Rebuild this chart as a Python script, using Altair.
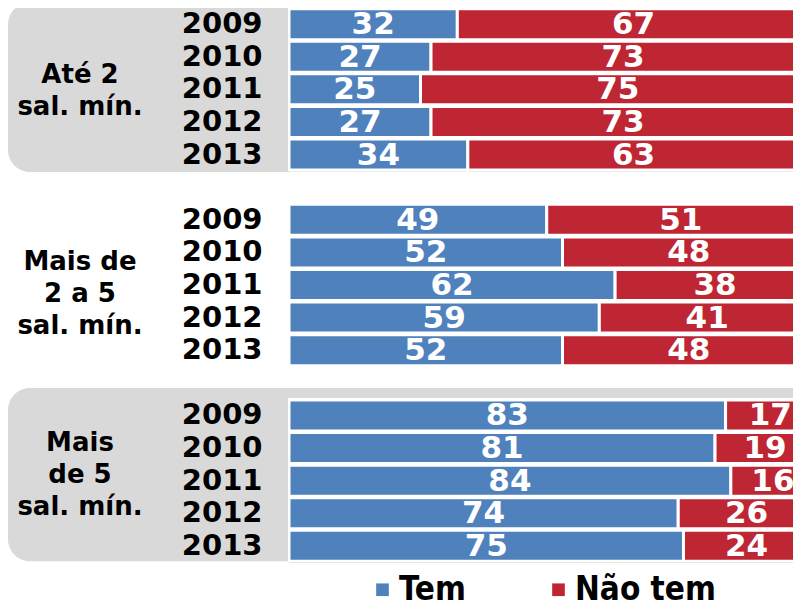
import altair as alt
import pandas as pd

groups = ["A", "B", "C"]
group_labels = ["Até 2\nsal. mín.", "Mais de\n2 a 5\nsal. mín.", "Mais\nde 5\nsal. mín."]
years = ["2009", "2010", "2011", "2012", "2013"]
tem = {"A": [32, 27, 25, 27, 34], "B": [49, 52, 62, 59, 52], "C": [83, 81, 84, 74, 75]}
nao_tem = {"A": [67, 73, 75, 73, 63], "B": [51, 48, 38, 41, 48], "C": [17, 19, 16, 26, 24]}
series = ["Tem", "Não tem"]
colors = ["#4F81BD", "#BE2633"]

keys = []
for i, g in enumerate(groups):
    keys += [f"{g}|{y}" for y in years]
    if i < len(groups) - 1:
        keys.append(f"gap{i}| ")

rows = []
for g in groups:
    for j, y in enumerate(years):
        rows.append({"key": f"{g}|{y}", "cat": series[0], "value": tem[g][j], "ord": 0})
        rows.append({"key": f"{g}|{y}", "cat": series[1], "value": nao_tem[g][j], "ord": 1})
df = pd.DataFrame(rows)

W, H = 504, 554
yscale = alt.Scale(domain=keys, paddingInner=0.05, paddingOuter=0.02)
yaxis = alt.Axis(title=None, ticks=False, domain=False, grid=False,
                 labelExpr="split(datum.value, '|')[1]",
                 labelFont="DejaVu Sans", labelFontSize=29, labelFontWeight="bold",
                 labelColor="black", labelPadding=27)
xscale = alt.Scale(domain=[0, 95.82], nice=False, zero=True)


def Y(field="key", **kw):
    return alt.Y(f"{field}:O", scale=yscale, axis=yaxis, **kw)


layers = []

# plain white backdrop for the plotting area
layers.append(
    alt.Chart(pd.DataFrame([{"k": 0}])).mark_rect(color="white")
    .encode(x=alt.value(-1), x2=alt.value(W + 40), y=alt.value(0), y2=alt.value(H))
)

# background panels for groups A and C
panel_specs = [("A", -6, 2), ("C", -12, 0)]
for g, off1, off2 in panel_specs:
    pdf = pd.DataFrame([{"key": f"{g}|{years[0]}", "key2": f"{g}|{years[-1]}"}])
    layers.append(
        alt.Chart(pdf).mark_rect(color="#D9D9D9", cornerRadius=22, yOffset=off1, y2Offset=off2)
        .encode(y=Y(bandPosition=0), y2=alt.Y2("key2", bandPosition=1),
                x=alt.value(-281), x2=alt.value(W + 40))
    )
    layers.append(
        alt.Chart(pdf).mark_rect(color="white", yOffset=-2, y2Offset=1)
        .encode(y=Y(bandPosition=0), y2=alt.Y2("key2", bandPosition=1),
                x=alt.value(-1), x2=alt.value(W + 40))
    )

base = (
    alt.Chart(df)
    .transform_stack(stack="value", groupby=["key"], as_=["v0", "v1"], sort=[alt.SortField("ord")])
    .transform_calculate(mid="(datum.v0 + datum.v1) / 2")
)

bars = base.mark_bar(stroke="white", strokeWidth=3, clip=True).encode(
    y=Y(),
    x=alt.X("v0:Q", scale=xscale, axis=None),
    x2="v1:Q",
    color=alt.Color(
        "cat:N",
        scale=alt.Scale(domain=series, range=colors),
        legend=alt.Legend(
            title=None, orient="none", direction="horizontal", legendX=77, legendY=565,
            symbolType="square", symbolSize=160, symbolStrokeWidth=0,
            labelFont="DejaVu Sans Condensed, DejaVu Sans", labelFontSize=33,
            labelFontWeight="bold", labelColor="black", labelOffset=0,
            columnPadding=76, padding=0,
        ),
    ),
)
layers.append(bars)

labels = base.mark_text(color="white", font="DejaVu Sans", fontSize=31, fontWeight="bold",
                        align="center", baseline="middle", dy=1).encode(
    y=Y(),
    x=alt.X("mid:Q", scale=xscale, axis=None),
    text="value:Q",
)
layers.append(labels)

gdy = [-14, -23, -38]
for g, lab, d in zip(groups, group_labels, gdy):
    gdf = pd.DataFrame([{"key": f"{g}|2011", "label": lab}])
    layers.append(
        alt.Chart(gdf).mark_text(font="DejaVu Sans", fontSize=26, fontWeight="bold", color="black",
                                 align="center", baseline="middle", lineBreak="\n",
                                 lineHeight=32, dy=d)
        .encode(y=Y(), x=alt.value(-209), text="label:N")
    )

chart = (
    alt.layer(*layers)
    .properties(width=W, height=H, autosize=alt.AutoSizeParams(type="none"),
                padding={"left": 281, "top": 0, "right": 0, "bottom": 38})
    .configure_view(stroke=None)
    .configure_axis(domain=False, ticks=False, grid=False)
    .configure(background="white")
)

chart.save("out.html", embed_options={"renderer": "svg", "actions": False})
